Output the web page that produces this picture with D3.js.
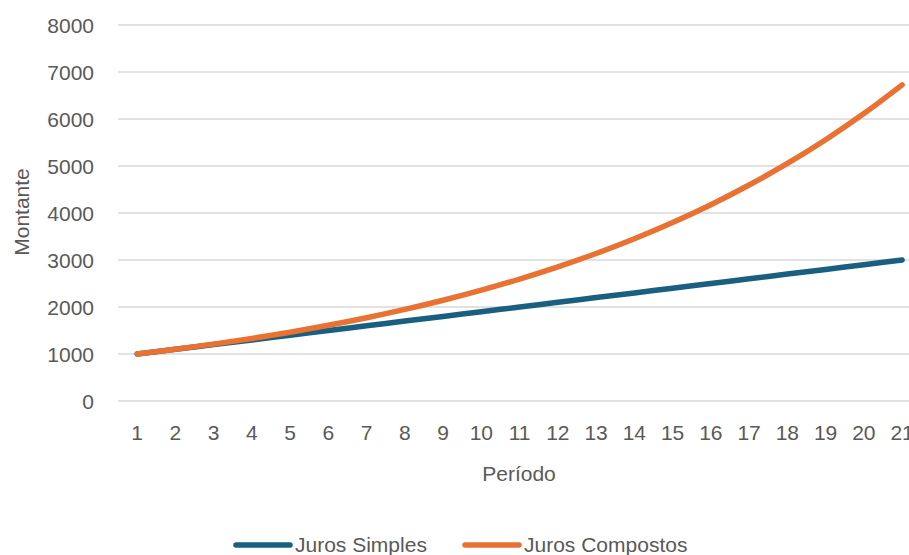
<!DOCTYPE html>
<html><head><meta charset="utf-8">
<script src="https://cdn.jsdelivr.net/npm/d3@7"></script>
<style>body{margin:0;background:#fff}svg{display:block;font-family:"Liberation Sans",Arial,sans-serif}</style>
</head><body><svg id="c" width="909" height="555"></svg>
<script>
const periods = ["1","2","3","4","5","6","7","8","9","10","11","12","13","14","15","16","17","18","19","20","21"];
const jurosSimples = [1000,1100,1200,1300,1400,1500,1600,1700,1800,1900,2000,2100,2200,2300,2400,2500,2600,2700,2800,2900,3000];
const jurosCompostos = [1000,1100,1210,1331,1464,1611,1772,1949,2144,2358,2594,2853,3138,3452,3797,4177,4595,5054,5560,6116,6727];
const yTicks = [0,1000,2000,3000,4000,5000,6000,7000,8000];
const seriesNames = ["Juros Simples","Juros Compostos"];
const colors = ["#185F80","#E97132"];

const svg = d3.select("#c");
const x = d3.scaleBand().domain(periods).range([118, 921.25]).padding(0);
const cx = d => x(d) + x.bandwidth()/2;
const y = d3.scaleLinear().domain([0,8000]).range([401,25]);
const txt = "#595959";

// gridlines
svg.append("g").selectAll("line").data(yTicks).join("line")
  .attr("x1",118).attr("x2",921).attr("y1",d=>y(d)).attr("y2",d=>y(d))
  .attr("stroke","#D9D9D9").attr("stroke-width",1.5);

// y tick labels
svg.append("g").selectAll("text").data(yTicks).join("text")
  .attr("x",94).attr("y",d=>y(d)).attr("dy","0.36em").attr("text-anchor","end")
  .attr("font-size",21).attr("fill",txt).text(d=>d);

// x tick labels
svg.append("g").selectAll("text").data(periods).join("text")
  .attr("x",d=>cx(d)).attr("y",440).attr("text-anchor","middle")
  .attr("font-size",21).attr("fill",txt).text(d=>d);

// axis titles
svg.append("text").attr("x",519).attr("y",481).attr("text-anchor","middle")
  .attr("font-size",21).attr("fill",txt).text("Período");
svg.append("text").attr("transform","translate(29,212) rotate(-90)").attr("text-anchor","middle")
  .attr("font-size",21).attr("fill",txt).text("Montante");

// lines
const line = d3.line().x((d,i)=>cx(periods[i])).y(d=>y(d)).curve(d3.curveMonotoneX);
[jurosSimples, jurosCompostos].forEach((s,k)=>{
  svg.append("path").datum(s).attr("d",line).attr("fill","none")
    .attr("stroke",colors[k]).attr("stroke-width",5.5).attr("stroke-linecap","round").attr("stroke-linejoin","round");
});

// legend
const legX = [234, 463];
seriesNames.forEach((n,k)=>{
  svg.append("line").attr("x1",legX[k]+2).attr("x2",legX[k]+56).attr("y1",545).attr("y2",545)
    .attr("stroke",colors[k]).attr("stroke-width",5.5).attr("stroke-linecap","round");
  svg.append("text").attr("x",legX[k]+61).attr("y",552).attr("font-size",21).attr("fill",txt).text(n);
});
</script></body></html>
